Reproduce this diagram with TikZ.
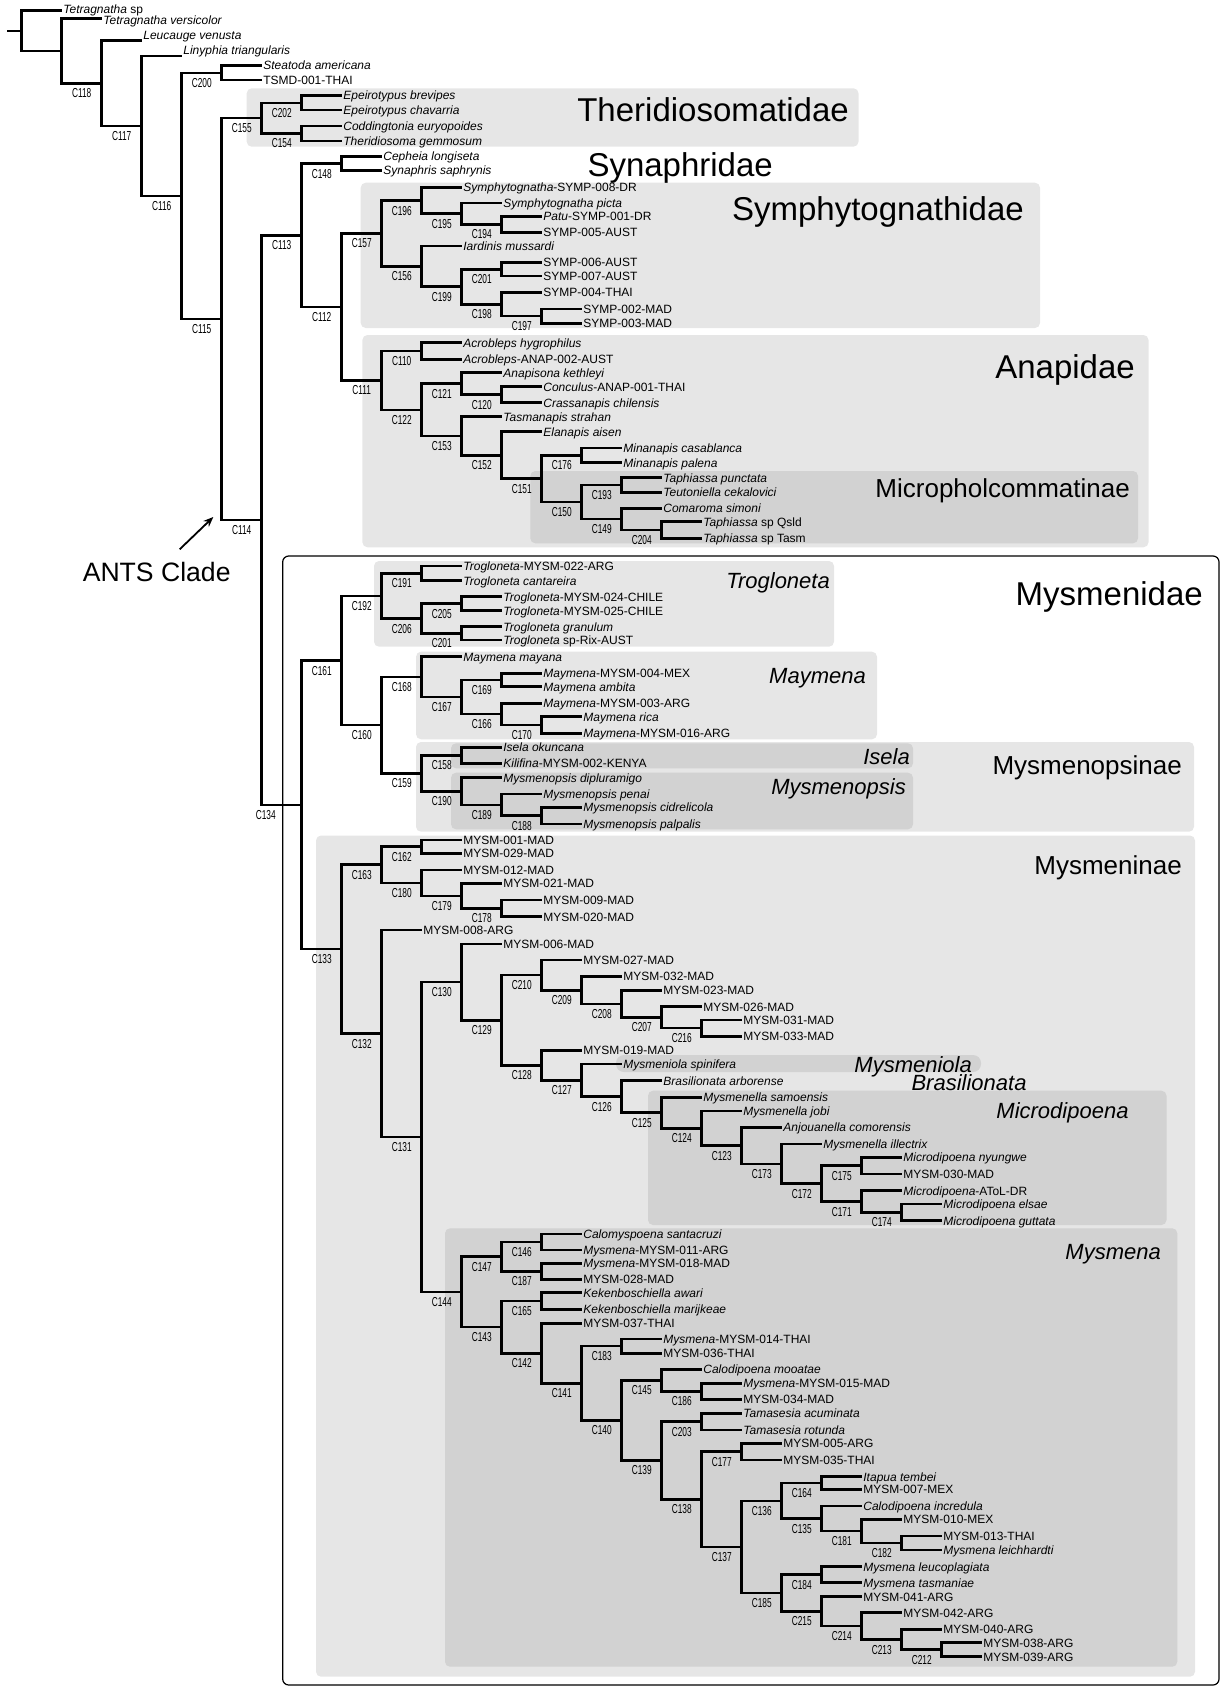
\documentclass[tikz,border=0pt]{standalone}
\usepackage{fontspec}
\setmainfont{Liberation Sans}
\newfontfamily\narrowfont[FakeStretch=0.64]{Liberation Sans}
\usepackage{tikz}
\usetikzlibrary{arrows.meta,calc}
\definecolor{ink}{HTML}{000000}
\definecolor{boxlight}{HTML}{E6E6E6}
\definecolor{boxdark}{HTML}{D2D2D2}
\newcommand\tip[4]{\coordinate (#1) at ({21.7+40*#2},#3); \node[taxon] (#1l) at (#1) {#4};}
\newcommand\cladejoin[4]{%
  \path let \p1=(#3), \p2=(#4) in ({21.7+40*#2},{0.5*(\y1+\y2)}) coordinate (#1);
  \draw[branch] (#1) |- (#3) (#1) |- (#4);}
\newcommand\clade[5]{\cladejoin{#1}{#2}{#3}{#4}\node[clabel] (#1lab) at ([xshift=-20pt]#1) {#5};}

\begin{document}
\begin{tikzpicture}[x=1pt,y=-1pt]
\tikzset{branch/.style={draw=ink,line width=2.6pt,line join=miter},
  taxon/.style={anchor=west,inner xsep=1.5pt,inner ysep=0pt,text height=8.6pt,text depth=0pt,font=\fontsize{12}{12}\selectfont},
  clabel/.style={anchor=north,yshift=-4pt,inner sep=1pt,text height=9.3pt,text depth=0pt,font=\narrowfont\fontsize{13}{13}\selectfont},
  fam/.style={anchor=east,inner sep=0pt,text height=24pt,text depth=0pt,font=\fontsize{33}{33}\selectfont},
  subfam/.style={anchor=east,inner sep=0pt,text height=19pt,text depth=0pt,font=\fontsize{26}{26}\selectfont},
  genus/.style={anchor=east,inner sep=0pt,text height=16pt,text depth=0pt,font=\fontsize{22}{22}\selectfont\itshape},
  panel/.style={rounded corners=5pt},
  arr/.style={-{Stealth[length=10pt,width=8pt]},line width=1.8pt,draw=ink}}
\useasboundingbox (0,0) rectangle (1227,1693);

\fill[boxlight,panel] (246.7,88.3) rectangle (858.5,146.7);
\fill[boxlight,panel] (360.7,182.7) rectangle (1040,328);
\fill[boxlight,panel] (362.4,335) rectangle (1148.5,547.3);
\fill[boxdark,panel] (530.3,471) rectangle (1138,543.3);
\draw[ink,line width=1.2pt,rounded corners=6pt] (282.7,556) rectangle (1219,1685);
\fill[boxlight,panel] (374,561) rectangle (834,646.7);
\fill[boxlight,panel] (416,651.7) rectangle (877,739.3);
\fill[boxlight,panel] (416,742) rectangle (1194,831.7);
\fill[boxdark,panel] (451,743.3) rectangle (913,768.3);
\fill[boxdark,panel] (451,772.7) rectangle (913,829.3);
\fill[boxlight,panel] (316,835.5) rectangle (1195,1676.7);
\fill[boxdark,rounded corners=8pt] (616,1055) rectangle (981,1072);
\fill[boxdark,panel] (648,1090.7) rectangle (1166.5,1225);
\fill[boxdark,panel] (445,1228.3) rectangle (1177.3,1666.7);

\coordinate (t1) at (61.7,10.7); \node[taxon,yshift=1.5pt] (t1l) at (t1) {\textit{Tetragnatha} sp};
\coordinate (t2) at (101.7,18.5); \node[taxon,yshift=-1.5pt] (t2l) at (t2) {\textit{Tetragnatha versicolor}};
\coordinate (t3) at (141.7,40.7); \node[taxon,anchor=south west,yshift=1pt] (t3l) at (t3) {\textit{Leucauge venusta}};
\coordinate (t4) at (181.7,56); \node[taxon,anchor=south west,yshift=1pt] (t4l) at (t4) {\textit{Linyphia triangularis}};
\tip{t5}{6}{65.7}{\textit{Steatoda americana}}
\tip{t6}{6}{80}{TSMD-001-THAI}
\tip{t7}{8}{95.7}{\textit{Epeirotypus brevipes}}
\tip{t8}{8}{110}{\textit{Epeirotypus chavarria}}
\tip{t9}{8}{126}{\textit{Coddingtonia euryopoides}}
\tip{t10}{8}{141}{\textit{Theridiosoma gemmosum}}
\tip{t11}{9}{156.7}{\textit{Cepheia longiseta}}
\tip{t12}{9}{170.5}{\textit{Synaphris saphrynis}}
\tip{t13}{11}{187.3}{\textit{Symphytognatha}-SYMP-008-DR}
\tip{t14}{12}{203}{\textit{Symphytognatha picta}}
\tip{t15}{13}{216.5}{\textit{Patu}-SYMP-001-DR}
\tip{t16}{13}{232.5}{SYMP-005-AUST}
\tip{t17}{11}{246}{\textit{Iardinis mussardi}}
\tip{t18}{13}{262.5}{SYMP-006-AUST}
\tip{t19}{13}{276}{SYMP-007-AUST}
\tip{t20}{13}{292.3}{SYMP-004-THAI}
\tip{t21}{14}{309}{SYMP-002-MAD}
\tip{t22}{14}{323.3}{SYMP-003-MAD}
\tip{t23}{11}{342.7}{\textit{Acrobleps hygrophilus}}
\tip{t24}{11}{359.3}{\textit{Acrobleps}-ANAP-002-AUST}
\tip{t25}{12}{372.7}{\textit{Anapisona kethleyi}}
\tip{t26}{13}{386.7}{\textit{Conculus}-ANAP-001-THAI}
\tip{t27}{13}{402.7}{\textit{Crassanapis chilensis}}
\tip{t28}{12}{416.7}{\textit{Tasmanapis strahan}}
\tip{t29}{13}{431.7}{\textit{Elanapis aisen}}
\tip{t30}{15}{448}{\textit{Minanapis casablanca}}
\tip{t31}{15}{462.7}{\textit{Minanapis palena}}
\tip{t32}{16}{477.7}{\textit{Taphiassa punctata}}
\tip{t33}{16}{492.3}{\textit{Teutoniella cekalovici}}
\tip{t34}{16}{508.3}{\textit{Comaroma simoni}}
\tip{t35}{17}{521.7}{\textit{Taphiassa} sp Qsld}
\tip{t36}{17}{538.3}{\textit{Taphiassa} sp Tasm}
\tip{t37}{11}{566}{\textit{Trogloneta}-MYSM-022-ARG}
\tip{t38}{11}{580.7}{\textit{Trogloneta cantareira}}
\tip{t39}{12}{596.7}{\textit{Trogloneta}-MYSM-024-CHILE}
\tip{t40}{12}{610.7}{\textit{Trogloneta}-MYSM-025-CHILE}
\tip{t41}{12}{626.7}{\textit{Trogloneta granulum}}
\tip{t42}{12}{640}{\textit{Trogloneta} sp-Rix-AUST}
\tip{t43}{11}{656.7}{\textit{Maymena mayana}}
\tip{t44}{13}{673.3}{\textit{Maymena}-MYSM-004-MEX}
\tip{t45}{13}{686.7}{\textit{Maymena ambita}}
\tip{t46}{13}{703.3}{\textit{Maymena}-MYSM-003-ARG}
\tip{t47}{14}{716.7}{\textit{Maymena rica}}
\tip{t48}{14}{733.3}{\textit{Maymena}-MYSM-016-ARG}
\tip{t49}{12}{747.3}{\textit{Isela okuncana}}
\tip{t50}{12}{763.3}{\textit{Kilifina}-MYSM-002-KENYA}
\tip{t51}{12}{777.7}{\textit{Mysmenopsis dipluramigo}}
\tip{t52}{13}{794}{\textit{Mysmenopsis penai}}
\tip{t53}{14}{807.3}{\textit{Mysmenopsis cidrelicola}}
\tip{t54}{14}{824}{\textit{Mysmenopsis palpalis}}
\tip{t55}{11}{840}{MYSM-001-MAD}
\tip{t56}{11}{853.3}{MYSM-029-MAD}
\tip{t57}{11}{870}{MYSM-012-MAD}
\tip{t58}{12}{883.3}{MYSM-021-MAD}
\tip{t59}{13}{900}{MYSM-009-MAD}
\tip{t60}{13}{916.7}{MYSM-020-MAD}
\tip{t61}{10}{930}{MYSM-008-ARG}
\tip{t62}{12}{944}{MYSM-006-MAD}
\tip{t63}{14}{960}{MYSM-027-MAD}
\tip{t64}{15}{976.5}{MYSM-032-MAD}
\tip{t65}{16}{990.5}{MYSM-023-MAD}
\tip{t66}{17}{1006.7}{MYSM-026-MAD}
\tip{t67}{18}{1020}{MYSM-031-MAD}
\tip{t68}{18}{1036.3}{MYSM-033-MAD}
\tip{t69}{14}{1050.5}{MYSM-019-MAD}
\tip{t70}{15}{1064}{\textit{Mysmeniola spinifera}}
\tip{t71}{16}{1080.7}{\textit{Brasilionata arborense}}
\tip{t72}{17}{1097.3}{\textit{Mysmenella samoensis}}
\tip{t73}{18}{1111}{\textit{Mysmenella jobi}}
\tip{t74}{19}{1127.3}{\textit{Anjouanella comorensis}}
\tip{t75}{20}{1144}{\textit{Mysmenella illectrix}}
\tip{t76}{22}{1157.3}{\textit{Microdipoena nyungwe}}
\tip{t77}{22}{1174}{MYSM-030-MAD}
\tip{t78}{22}{1190.7}{\textit{Microdipoena}-AToL-DR}
\tip{t79}{23}{1204}{\textit{Microdipoena elsae}}
\tip{t80}{23}{1220.7}{\textit{Microdipoena guttata}}
\tip{t81}{14}{1234}{\textit{Calomyspoena santacruzi}}
\tip{t82}{14}{1250}{\textit{Mysmena}-MYSM-011-ARG}
\tip{t83}{14}{1263.3}{\textit{Mysmena}-MYSM-018-MAD}
\tip{t84}{14}{1279.3}{MYSM-028-MAD}
\tip{t85}{14}{1292.7}{\textit{Kekenboschiella awari}}
\tip{t86}{14}{1309.3}{\textit{Kekenboschiella marijkeae}}
\tip{t87}{14}{1323.3}{MYSM-037-THAI}
\tip{t88}{16}{1339}{\textit{Mysmena}-MYSM-014-THAI}
\tip{t89}{16}{1353.3}{MYSM-036-THAI}
\tip{t90}{17}{1369.3}{\textit{Calodipoena mooatae}}
\tip{t91}{18}{1383.3}{\textit{Mysmena}-MYSM-015-MAD}
\tip{t92}{18}{1399.3}{MYSM-034-MAD}
\tip{t93}{18}{1413.3}{\textit{Tamasesia acuminata}}
\tip{t94}{18}{1430}{\textit{Tamasesia rotunda}}
\tip{t95}{19}{1443.3}{MYSM-005-ARG}
\tip{t96}{19}{1460}{MYSM-035-THAI}
\tip{t97}{21}{1476.7}{\textit{Itapua tembei}}
\tip{t98}{21}{1489.3}{MYSM-007-MEX}
\tip{t99}{21}{1506}{\textit{Calodipoena incredula}}
\tip{t100}{22}{1519.3}{MYSM-010-MEX}
\tip{t101}{23}{1536}{MYSM-013-THAI}
\tip{t102}{23}{1550}{\textit{Mysmena leichhardti}}
\tip{t103}{21}{1566.7}{\textit{Mysmena leucoplagiata}}
\tip{t104}{21}{1582.7}{\textit{Mysmena tasmaniae}}
\tip{t105}{21}{1596.7}{MYSM-041-ARG}
\tip{t106}{22}{1612.7}{MYSM-042-ARG}
\tip{t107}{23}{1629.3}{MYSM-040-ARG}
\tip{t108}{24}{1642.7}{MYSM-038-ARG}
\tip{t109}{24}{1656.7}{MYSM-039-ARG}

\clade{C202}{7}{t7}{t8}{C202}
\clade{C154}{7}{t9}{t10}{C154}
\clade{C155}{6}{C202}{C154}{C155}
\clade{C200}{5}{t5}{t6}{C200}
\clade{C148}{8}{t11}{t12}{C148}
\clade{C194}{12}{t15}{t16}{C194}
\clade{C195}{11}{t14}{C194}{C195}
\clade{C196}{10}{t13}{C195}{C196}
\clade{C201a}{12}{t18}{t19}{C201}
\clade{C197}{13}{t21}{t22}{C197}
\clade{C198}{12}{t20}{C197}{C198}
\clade{C199}{11}{C201a}{C198}{C199}
\clade{C156}{10}{t17}{C199}{C156}
\clade{C157}{9}{C196}{C156}{C157}
\clade{C110}{10}{t23}{t24}{C110}
\clade{C120}{12}{t26}{t27}{C120}
\clade{C121}{11}{t25}{C120}{C121}
\clade{C176}{14}{t30}{t31}{C176}
\clade{C193}{15}{t32}{t33}{C193}
\clade{C204}{16}{t35}{t36}{C204}
\clade{C149}{15}{t34}{C204}{C149}
\clade{C150}{14}{C193}{C149}{C150}
\clade{C151}{13}{C176}{C150}{C151}
\clade{C152}{12}{t29}{C151}{C152}
\clade{C153}{11}{t28}{C152}{C153}
\clade{C122}{10}{C121}{C153}{C122}
\clade{C111}{9}{C110}{C122}{C111}
\clade{C112}{8}{C157}{C111}{C112}
\clade{C113}{7}{C148}{C112}{C113}
\clade{C191}{10}{t37}{t38}{C191}
\clade{C205}{11}{t39}{t40}{C205}
\clade{C201b}{11}{t41}{t42}{C201}
\clade{C206}{10}{C205}{C201b}{C206}
\clade{C192}{9}{C191}{C206}{C192}
\clade{C169}{12}{t44}{t45}{C169}
\clade{C170}{13}{t47}{t48}{C170}
\clade{C166}{12}{t46}{C170}{C166}
\clade{C167}{11}{C169}{C166}{C167}
\clade{C168}{10}{t43}{C167}{C168}
\clade{C158}{11}{t49}{t50}{C158}
\clade{C188}{13}{t53}{t54}{C188}
\clade{C189}{12}{t52}{C188}{C189}
\clade{C190}{11}{t51}{C189}{C190}
\clade{C159}{10}{C158}{C190}{C159}
\clade{C160}{9}{C168}{C159}{C160}
\clade{C161}{8}{C192}{C160}{C161}
\clade{C162}{10}{t55}{t56}{C162}
\clade{C178}{12}{t59}{t60}{C178}
\clade{C179}{11}{t58}{C178}{C179}
\clade{C180}{10}{t57}{C179}{C180}
\clade{C163}{9}{C162}{C180}{C163}
\clade{C216}{17}{t67}{t68}{C216}
\clade{C207}{16}{t66}{C216}{C207}
\clade{C208}{15}{t65}{C207}{C208}
\clade{C209}{14}{t64}{C208}{C209}
\clade{C210}{13}{t63}{C209}{C210}
\clade{C174}{22}{t79}{t80}{C174}
\clade{C171}{21}{t78}{C174}{C171}
\clade{C175}{21}{t76}{t77}{C175}
\clade{C172}{20}{C175}{C171}{C172}
\clade{C173}{19}{t75}{C172}{C173}
\clade{C123}{18}{t74}{C173}{C123}
\clade{C124}{17}{t73}{C123}{C124}
\clade{C125}{16}{t72}{C124}{C125}
\clade{C126}{15}{t71}{C125}{C126}
\clade{C127}{14}{t70}{C126}{C127}
\clade{C128}{13}{t69}{C127}{C128}
\clade{C129}{12}{C210}{C128}{C129}
\clade{C130}{11}{t62}{C129}{C130}
\clade{C146}{13}{t81}{t82}{C146}
\clade{C187}{13}{t83}{t84}{C187}
\clade{C147}{12}{C146}{C187}{C147}
\clade{C165}{13}{t85}{t86}{C165}
\clade{C183}{15}{t88}{t89}{C183}
\clade{C186}{17}{t91}{t92}{C186}
\clade{C145}{16}{t90}{C186}{C145}
\clade{C203}{17}{t93}{t94}{C203}
\clade{C177}{18}{t95}{t96}{C177}
\clade{C164}{20}{t97}{t98}{C164}
\clade{C182}{22}{t101}{t102}{C182}
\clade{C181}{21}{t100}{C182}{C181}
\clade{C135}{20}{t99}{C181}{C135}
\clade{C136}{19}{C164}{C135}{C136}
\clade{C184}{20}{t103}{t104}{C184}
\clade{C212}{23}{t108}{t109}{C212}
\clade{C213}{22}{t107}{C212}{C213}
\clade{C214}{21}{t106}{C213}{C214}
\clade{C215}{20}{t105}{C214}{C215}
\clade{C185}{19}{C184}{C215}{C185}
\clade{C137}{18}{C136}{C185}{C137}
\clade{C138}{17}{C177}{C137}{C138}
\clade{C139}{16}{C203}{C138}{C139}
\clade{C140}{15}{C145}{C139}{C140}
\clade{C141}{14}{C183}{C140}{C141}
\clade{C142}{13}{t87}{C141}{C142}
\clade{C143}{12}{C165}{C142}{C143}
\clade{C144}{11}{C147}{C143}{C144}
\clade{C131}{10}{C130}{C144}{C131}
\clade{C132}{9}{t61}{C131}{C132}
\clade{C133}{8}{C163}{C132}{C133}
\cladejoin{C134}{7}{C161}{C133}
\node[clabel] (C134lab) at ([xshift=-36pt]C134) {C134};
\clade{C114}{6}{C113}{C134}{C114}
\clade{C115}{5}{C155}{C114}{C115}
\clade{C116}{4}{C200}{C115}{C116}
\clade{C117}{3}{t4}{C116}{C117}
\clade{C118}{2}{t3}{C117}{C118}
\cladejoin{base}{1}{t2}{C118}
\cladejoin{root}{0}{t1}{base}
\coordinate (stub) at ([xshift=-14.7pt]root);
\draw[branch] (stub) -- (root);

\node[fam] (theri) at (849,110) {Theridiosomatidae};
\node[fam] (synaph) at (773,165) {Synaphridae};
\node[fam] (symph) at (1024,208.5) {Symphytognathidae};
\node[fam] (anap) at (1135,366.7) {Anapidae};
\node[subfam] (micro) at (1130,488.3) {Micropholcommatinae};
\node[fam] (mysm) at (1203,593.3) {Mysmenidae};
\node[subfam] (mysmop) at (1182,765) {Mysmenopsinae};
\node[subfam] (mysmin) at (1182,865) {Mysmeninae};
\node[genus] (troglo) at (830,580) {Trogloneta};
\node[genus] (mayme) at (866,675) {Maymena};
\node[genus] (isela) at (910,756.7) {Isela};
\node[genus] (mysmps) at (906,786.7) {Mysmenopsis};
\node[genus] (mysmla) at (972,1064) {Mysmeniola};
\node[genus] (brasil) at (1026.7,1082.7) {Brasilionata};
\node[genus] (microd) at (1128.7,1110) {Microdipoena};
\node[genus] (mysmna) at (1161,1251) {Mysmena};

\node[font=\fontsize{26.6}{27}\selectfont,inner sep=3pt,text height=19pt,text depth=0pt] (ants) at (156.7,572) {ANTS Clade};
\coordinate (antstip) at (213.3,517);
\draw[arr] ([xshift=23pt,yshift=10pt]ants.north) -- (antstip);
\end{tikzpicture}
\end{document}
